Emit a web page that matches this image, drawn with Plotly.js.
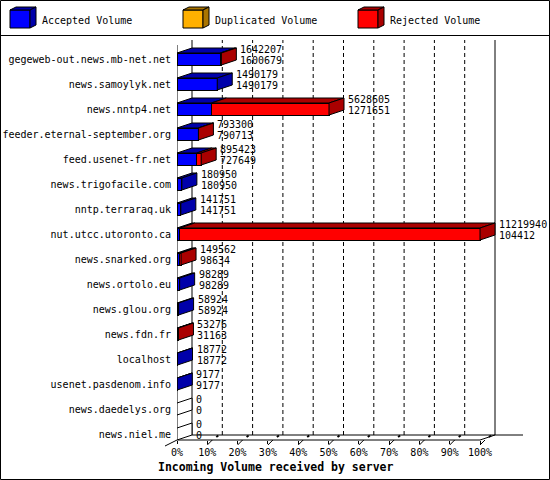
<!DOCTYPE html>
<html>
<head>
<meta charset="utf-8">
<script src="https://cdn.plot.ly/plotly-3.0.1.min.js"></script>
<style>
  body { margin: 0; background: #fff; }
  #graph { width: 550px; height: 480px; }
</style>
</head>
<body>
<div id="graph"></div>
<script>
// servers, top to bottom
var servers = [
  "gegeweb-out.news.mb-net.net", "news.samoylyk.net", "news.nntp4.net",
  "feeder.eternal-september.org", "feed.usenet-fr.net", "news.trigofacile.com",
  "nntp.terraraq.uk", "nut.utcc.utoronto.ca", "news.snarked.org",
  "news.ortolo.eu", "news.glou.org", "news.fdn.fr", "localhost",
  "usenet.pasdenom.info", "news.daedelys.org", "news.niel.me"
];
// upper number next to each bar
var totalVolume = [1642207, 1490179, 5628605, 793300, 895423, 180950, 141751,
  11219940, 149562, 98289, 58924, 53276, 18772, 9177, 0, 0];
// lower number next to each bar
var acceptedVolume = [1600679, 1490179, 1271651, 790713, 727649, 180950, 141751,
  104412, 98634, 98289, 58924, 31163, 18772, 9177, 0, 0];
var duplicatedVolume = [0, 0, 0, 0, 0, 0, 0, 0, 0, 0, 0, 0, 0, 0, 0, 0];
var tickPercents = [0, 10, 20, 30, 40, 50, 60, 70, 80, 90, 100];

var seriesNames = ["Accepted Volume", "Duplicated Volume", "Rejected Volume"];
var frontColors = ["#0000ff", "#ffb000", "#ff0000"];
var sideColors = ["#0000aa", "#aa7500", "#aa0000"];

// pixel geometry of the plot box (550x480 image)
var L = 177, R = 540, T = 38, B = 440;
var W = R - L, H = B - T;
var pxPerPct = 3.03, pxPerRow = 25, firstRowPx = 59;
var dxU = 15 / pxPerPct, dyU = 5 / pxPerRow;   // 3d depth
var barHalf = 0.24;

function xv(p){ return (p - L) / pxPerPct; }
function yv(p){ return (p - firstRowPx) / pxPerRow; }
function paperX(p){ return (p - L) / W; }
function paperY(p){ return (B - p) / H; }

function buildServerGraph(){

  var maxVolume = Math.max.apply(null, totalVolume);
  var rows = servers.map((s, i) => i);
  var rejectedVolume = totalVolume.map((t, i) => t - acceptedVolume[i] - duplicatedVolume[i]);

  var seriesPct = [acceptedVolume, duplicatedVolume, rejectedVolume].map(
    (arr) => arr.map((v) => v / maxVolume * 100));
  var totalPct = totalVolume.map((v) => v / maxVolume * 100);

  let data_input = [];
  seriesPct.forEach((pct, k) => {
    data_input.push({
      type: 'bar',
      orientation: 'h',
      x: pct,
      y: rows,
      width: 0.48,
      name: seriesNames[k],
      marker: {color: frontColors[k], line: {color: "#000", width: 1}},
      hoverinfo: 'skip'
    });
  });

  let shapes = [];
  let annotations = [];
  var black = {color: "#000", width: 1};

  // back wall: dashed grid lines and solid edges
  tickPercents.forEach((p) => {
    var solid = (p === 0 || p === 100);
    shapes.push({type: 'line', xref: 'x', yref: 'y', layer: 'below',
      x0: p + dxU, x1: p + dxU, y0: yv(435), y1: yv(40),
      line: {color: "#000", width: 1, dash: solid ? 'solid' : '4px,3px'}});
  });
  shapes.push({type: 'line', xref: 'x', yref: 'y', layer: 'below',
    x0: dxU, x1: xv(523), y0: yv(435), y1: yv(435), line: black});
  // front axes
  shapes.push({type: 'line', xref: 'x', yref: 'y', layer: 'above',
    x0: 0, x1: 0, y0: yv(45), y1: yv(440), line: black});
  shapes.push({type: 'line', xref: 'x', yref: 'paper', layer: 'above',
    x0: 0, x1: 100, y0: paperY(440), y1: paperY(440), line: black});
  shapes.push({type: 'line', xref: 'x', yref: 'paper', layer: 'above',
    x0: 100, x1: 100 + dxU, y0: paperY(440), y1: paperY(435), line: black});
  shapes.push({type: 'line', xref: 'paper', yref: 'paper', layer: 'above',
    x0: paperX(165), x1: paperX(177), y0: paperY(446), y1: paperY(440), line: black});
  // floor ticks running back
  tickPercents.slice(1).forEach((p) => {
    shapes.push({type: 'line', xref: 'x', yref: 'paper', layer: 'above',
      x0: p, x1: p + 5 / pxPerPct, y0: paperY(445), y1: paperY(440), line: black});
    shapes.push({type: 'line', xref: 'x', yref: 'paper', layer: 'above',
      x0: p + 9 / pxPerPct, x1: p + 11 / pxPerPct, y0: paperY(437), y1: paperY(435.5),
      line: {color: "#000", width: 2}});
  });

  // 3d top and side faces of every bar
  rows.forEach((i) => {
    var yt = i - barHalf, yb = i + barHalf;
    var start = 0, lastK = -1;
    seriesPct.forEach((pct, k) => {
      var x0 = start, x1 = start + pct[i];
      if(pct[i] > 0){
        shapes.push({type: 'path', xref: 'x', yref: 'y', layer: 'above',
          path: `M${x0},${yt} L${x0 + dxU},${yt - dyU} L${x1 + dxU},${yt - dyU} L${x1},${yt} Z`,
          fillcolor: sideColors[k], line: black});
        lastK = k;
      }
      start = x1;
    });
    var xe = totalPct[i];
    shapes.push({type: 'path', xref: 'x', yref: 'y', layer: 'above',
      path: `M${xe},${yt} L${xe + dxU},${yt - dyU} L${xe + dxU},${yb - dyU} L${xe},${yb} Z`,
      fillcolor: lastK < 0 ? "#fff" : sideColors[lastK], line: black});

    // value labels: total on top, accepted below
    [[totalVolume[i], -0.39], [acceptedVolume[i], 0.06]].forEach((lab) => {
      annotations.push({xref: 'x', yref: 'y', x: xe + dxU, y: i + lab[1],
        xanchor: 'left', yanchor: 'middle', xshift: 2, showarrow: false,
        text: String(lab[0]),
        font: {family: "DejaVu Sans Mono", size: 10, color: "#000"}});
    });
  });

  // hand drawn legend with little cubes
  var legendX = [10, 183, 358];
  seriesNames.forEach((name, k) => {
    var x = legendX[k];
    shapes.push({type: 'rect', xref: 'paper', yref: 'paper',
      x0: paperX(x), x1: paperX(x + 20), y0: paperY(10), y1: paperY(28),
      fillcolor: frontColors[k], line: black});
    shapes.push({type: 'path', xref: 'paper', yref: 'paper',
      path: `M${paperX(x)},${paperY(10)} L${paperX(x + 6)},${paperY(7)} L${paperX(x + 26)},${paperY(7)} L${paperX(x + 20)},${paperY(10)} Z`,
      fillcolor: sideColors[k], line: black});
    shapes.push({type: 'path', xref: 'paper', yref: 'paper',
      path: `M${paperX(x + 20)},${paperY(10)} L${paperX(x + 26)},${paperY(7)} L${paperX(x + 26)},${paperY(25)} L${paperX(x + 20)},${paperY(28)} Z`,
      fillcolor: sideColors[k], line: black});
    annotations.push({xref: 'paper', yref: 'paper', x: paperX(x + 30), y: paperY(20),
      xanchor: 'left', yanchor: 'middle', showarrow: false, text: name,
      font: {family: "DejaVu Sans Mono", size: 10, color: "#000"}});
  });

  // frame and legend separator
  shapes.push({type: 'rect', xref: 'paper', yref: 'paper',
    x0: paperX(0.5), x1: paperX(549.5), y0: paperY(0.5), y1: paperY(479.5), line: black});
  shapes.push({type: 'line', xref: 'paper', yref: 'paper',
    x0: paperX(0), x1: paperX(550), y0: paperY(35.5), y1: paperY(35.5), line: black});

  annotations.push({xref: 'paper', yref: 'paper', x: paperX(275), y: paperY(467),
    xanchor: 'center', yanchor: 'middle', showarrow: false,
    text: "<b>Incoming Volume received by server</b>",
    font: {family: "DejaVu Sans Mono", size: 11.5, color: "#000"}});

  var layout = {
    width: 550, height: 480,
    margin: {l: L, r: 550 - R, t: T, b: 480 - B, pad: 0},
    barmode: 'stack', showlegend: false, bargap: 0,
    paper_bgcolor: "#fff", plot_bgcolor: "#fff",
    font: {family: "DejaVu Sans Mono", size: 10, color: "#000"},
    xaxis: {range: [0, W / pxPerPct], tickvals: tickPercents,
      ticktext: tickPercents.map((p) => p + "%"),
      showgrid: false, zeroline: false, showline: false,
      ticks: 'outside', ticklen: 3, tickcolor: "#000",
      tickfont: {family: "DejaVu Sans Mono", size: 10, color: "#000"}},
    yaxis: {range: [(B - firstRowPx) / pxPerRow, -(firstRowPx - T) / pxPerRow],
      tickvals: rows, ticktext: servers,
      showgrid: false, zeroline: false, showline: false, ticks: '',
      ticklabelstandoff: 5,
      tickfont: {family: "DejaVu Sans Mono", size: 10, color: "#000"}},
    shapes: shapes,
    annotations: annotations
  };

  Plotly.newPlot('graph', data_input, layout, {displayModeBar: false, staticPlot: true});
}

buildServerGraph();
</script>
</body>
</html>
